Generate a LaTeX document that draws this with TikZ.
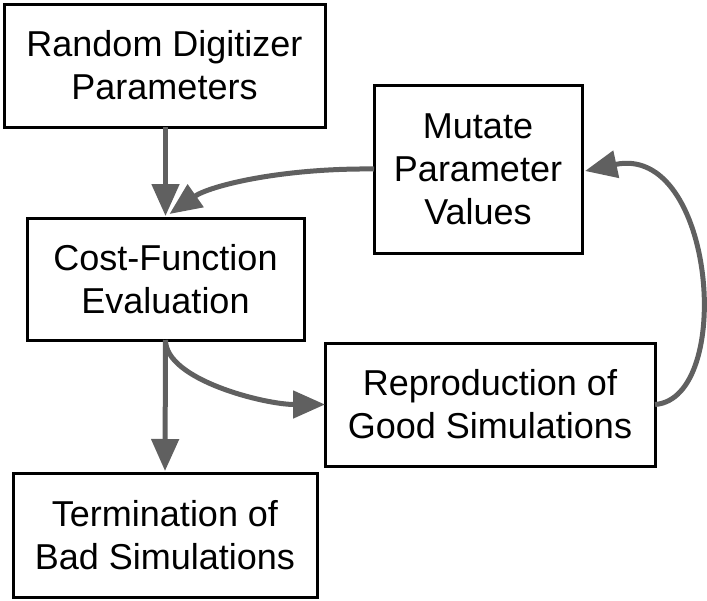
\documentclass[tikz,border=0pt]{standalone}
\usepackage{fontspec}
\setmainfont{Liberation Sans}
\usetikzlibrary{arrows.meta,calc}
\definecolor{arrowgray}{RGB}{96,96,96}
\begin{document}
\begin{tikzpicture}[x=1pt,y=-1pt,
  box/.style={draw=black,line width=3pt,inner sep=0pt,outer sep=0pt,align=center,
    font=\fontsize{36}{43}\selectfont},
  flow/.style={draw=arrowgray,line width=5pt,-{Triangle[length=32pt,width=27pt]}}]
\useasboundingbox (0,0) rectangle (707,600);
\node[box,minimum width=321pt,minimum height=123pt] (rand) at (164.5,65.5) {Random Digitizer\\Parameters};
\node[box,minimum width=277pt,minimum height=122pt] (cost) at (165.5,279) {Cost-Function\\Evaluation};
\node[box,minimum width=208pt,minimum height=168pt] (mut) at (478,169) {Mutate\\Parameter\\Values};
\node[box,minimum width=330pt,minimum height=123pt] (rep) at (490,404.5) {Reproduction of\\Good Simulations};
\node[box,minimum width=304pt,minimum height=124pt] (term) at (165,535) {Termination of\\Bad Simulations};
\draw[flow,shorten >=2pt] (rand.south -| cost.north) -- (cost.north);
\draw[flow,shorten >=2pt] (cost.south) -- (term.north);
\draw[flow] (cost.south) .. controls +(0,40) and +(-60,0) .. (rep.west);
\draw[flow] (mut.west) .. controls +(-94,-1) and +(40,-28) .. ($(cost.north)+(4,-4)$);
\draw[flow] (rep.east) .. controls +(80,-6) and +(130,-28) .. ($(mut.east)+(3,2)$);
\end{tikzpicture}
\end{document}
